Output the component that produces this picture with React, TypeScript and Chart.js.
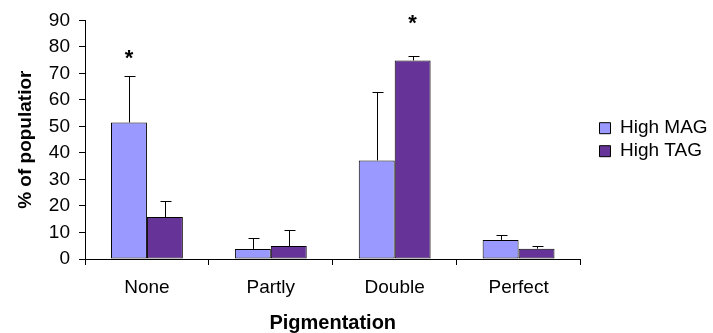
import React, { useEffect, useRef } from "react";
import { Chart, registerables } from "chart.js";

Chart.register(...registerables);

const categories = ["None", "Partly", "Double", "Perfect"];
const seriesNames = ["High MAG", "High TAG"];
const magValues = [51.5, 3.8, 37.2, 7.2];
const magErrors = [17.6, 4.0, 25.8, 1.7];
const tagValues = [15.8, 4.9, 74.9, 3.9];
const tagErrors = [6.2, 5.9, 1.7, 1.0];
const starSeries = [0, null, 1, null];
const starValues = [77, null, 90, null];
const yTicks = [0, 10, 20, 30, 40, 50, 60, 70, 80, 90];

const FONT = "'Liberation Sans', Arial, sans-serif";

const errorBarPlugin = {
  id: "errorBars",
  afterDatasetsDraw(chart: any) {
    const ctx = chart.ctx;
    const yScale = chart.scales.y;
    const errs = [magErrors, tagErrors];
    ctx.save();
    ctx.strokeStyle = "#000";
    ctx.lineWidth = 1;
    chart.data.datasets.forEach((ds: any, di: number) => {
      const meta = chart.getDatasetMeta(di);
      meta.data.forEach((bar: any, i: number) => {
        const v = ds.data[i];
        const e = errs[di][i];
        const x = Math.round(bar.x) + 0.5;
        const y0 = yScale.getPixelForValue(v);
        const y1 = Math.round(yScale.getPixelForValue(v + e)) + 0.5;
        ctx.beginPath();
        ctx.moveTo(x, y0);
        ctx.lineTo(x, y1);
        ctx.moveTo(x - 5, y1);
        ctx.lineTo(x + 6, y1);
        ctx.stroke();
      });
    });
    ctx.fillStyle = "#000";
    ctx.font = "bold 22px " + FONT;
    ctx.textAlign = "center";
    ctx.textBaseline = "middle";
    starSeries.forEach((s, i) => {
      if (s === null || starValues[i] === null) return;
      const bar: any = chart.getDatasetMeta(s).data[i];
      const y = yScale.getPixelForValue(starValues[i] as number);
      ctx.fillText("*", bar.x, y + 4);
    });
    ctx.restore();
  },
};

export default function App() {
  const ref = useRef<HTMLCanvasElement | null>(null);
  useEffect(() => {
    if (!ref.current) return;
    const chart = new Chart(ref.current, {
      type: "bar",
      data: {
        labels: categories,
        datasets: [
          {
            label: seriesNames[0],
            data: magValues,
            backgroundColor: "#9999FF",
            borderColor: "#000000",
            borderWidth: 1,
            borderSkipped: false,
          },
          {
            label: seriesNames[1],
            data: tagValues,
            backgroundColor: "#663399",
            borderColor: "#000000",
            borderWidth: 1,
            borderSkipped: false,
          },
        ],
      },
      options: {
        animation: false,
        responsive: false,
        devicePixelRatio: 1,
        layout: { padding: { left: 8, right: 0, top: 19, bottom: 0 } },
        datasets: { bar: { categoryPercentage: 0.58, barPercentage: 1 } },
        plugins: {
          legend: {
            position: "right",
            fullSize: false,
            labels: {
              boxWidth: 11,
              boxHeight: 11,
              color: "#000",
              font: { family: FONT, size: 19 },
              padding: 4,
            },
          },
          tooltip: { enabled: false },
        },
        scales: {
          x: {
            offset: true,
            grid: {
              offset: true,
              drawOnChartArea: false,
              drawTicks: true,
              tickLength: 6,
              color: "#000",
            },
            border: { color: "#000", width: 1 },
            ticks: {
              color: "#000",
              font: { family: FONT, size: 19 },
              padding: 11,
            },
            title: {
              display: true,
              text: "Pigmentation",
              color: "#000",
              font: { family: FONT, size: 20, weight: "bold" },
              padding: { top: 4, bottom: -2 },
            },
            afterFit(scale: any) {
              scale.height = 74;
            },
          },
          y: {
            min: 0,
            max: 90,
            afterBuildTicks(scale: any) {
              scale.ticks = yTicks.map((v) => ({ value: v }));
            },
            grid: {
              drawOnChartArea: false,
              drawTicks: true,
              tickLength: 6,
              color: "#000",
            },
            border: { color: "#000", width: 1 },
            ticks: {
              color: "#000",
              font: { family: FONT, size: 19 },
              padding: 9,
            },
            title: {
              display: true,
              text: "% of populatior",
              color: "#000",
              font: { family: FONT, size: 19, weight: "bold" },
              padding: { top: 6, bottom: 4 },
            },
            afterFit(scale: any) {
              scale.width = 77;
            },
          },
          gap: {
            position: "right",
            display: true,
            grid: { display: false, drawTicks: false },
            border: { display: false },
            ticks: { display: false },
            afterFit(scale: any) {
              scale.width = 15;
            },
          },
        },
      },
      plugins: [errorBarPlugin],
    });
    return () => chart.destroy();
  }, []);
  return (
    <div style={{ position: "absolute", left: 0, top: 0, width: 713, height: 333, background: "#fff" }}>
      <canvas ref={ref} width={713} height={333} />
    </div>
  );
}
